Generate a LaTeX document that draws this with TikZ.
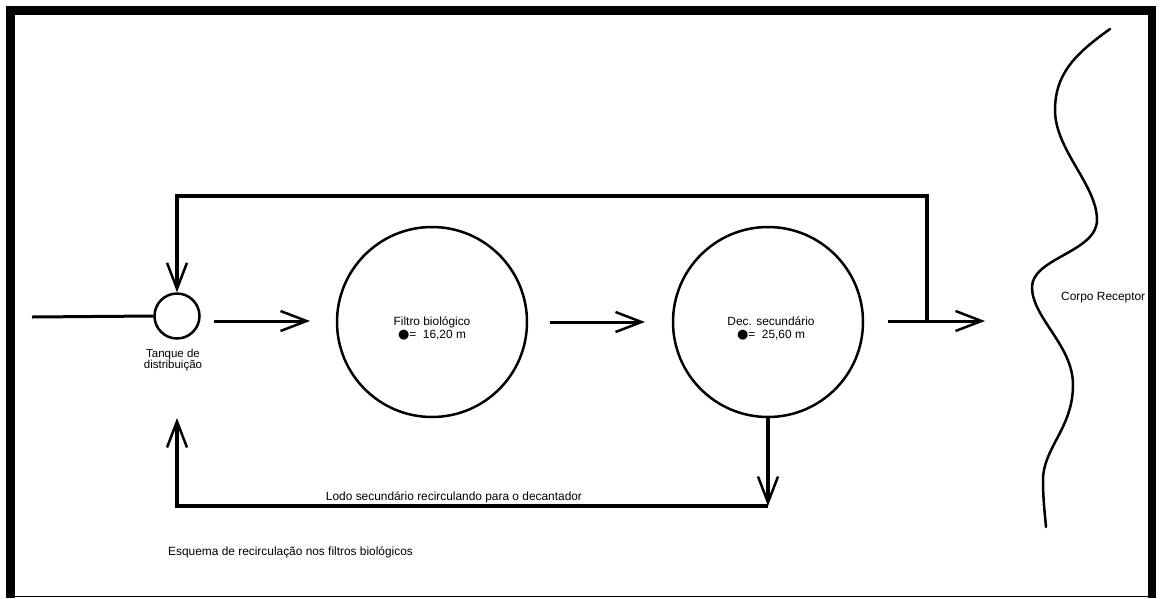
\documentclass[tikz,border=0pt]{standalone}
\usepackage{fontspec}
\setmainfont{Liberation Sans}
\newfontfamily\dejavu{DejaVu Sans}
\usetikzlibrary{arrows.meta}
\begin{document}
\begin{tikzpicture}[x=1pt,y=-1pt,
  barb/.style={-{Straight Barb[length=26pt,width=20pt,line width=2.5pt]}},
  flow/.style={line width=3pt, barb},
  loopline/.style={line width=4pt},
  vessel/.style={circle, draw, line width=2.5pt, inner sep=0pt},
  lbl/.style={font=\fontsize{11.9}{13}\selectfont, align=center, inner sep=0pt}]
\useasboundingbox (0,0) rectangle (1160,598);
% frame
\fill (6,6) rectangle (15,598);
\fill (6,6) rectangle (1156,15);
\fill (1148,6) rectangle (1156,598);
\draw[line width=1.5pt] (6,596.5) -- (1156,596.5);

% vessels
\node[vessel, minimum size=45pt] (tank) at (177,316) {};
\node[vessel, minimum size=190pt] (fb) at (432,322) {};
\node[vessel, minimum size=190pt] (dec) at (768,322) {};

% labels
\node[lbl, font=\fontsize{11.5}{11.5}\selectfont] (tankt) at (173,360) {Tanque de\\distribuição};
\node[lbl] (fbt) at (432,328) {Filtro biológico\\{\dejavu\fontsize{13}{13}\selectfont ●}= \ 16,20 m};
\node[lbl] (dect) at (771,328) {Dec. secundário\\{\dejavu\fontsize{13}{13}\selectfont ●}= \ 25,60 m};
\node[lbl, anchor=west] (corpo) at (1061,298) {Corpo Receptor};
\node[lbl] (lodo) at (454,497) {Lodo secundário recirculando para o decantador};
\node[lbl, anchor=west] (esq) at (168,552) {Esquema de recirculação nos filtros biológicos};

% coordinates
\coordinate (in) at (32,317);
\coordinate (a1s) at (214,321);
\coordinate (a1e) at (310,321);
\coordinate (a2s) at (550,322);
\coordinate (a2e) at (645,322);
\coordinate (a3s) at (888,321);
\coordinate (a3e) at (985,321);
\coordinate (split) at (927,321);
\coordinate (tr) at (927,196);
\coordinate (tl) at (177,196);
\coordinate (br) at (768,506);
\coordinate (bl) at (177,506);
\coordinate (up) at (177,418);

% connectors
\draw[line width=3pt] (in) -- (tank.west);
\draw[flow] (a1s) -- (a1e);
\draw[flow] (a2s) -- (a2e);
\draw[flow] (a3s) -- (a3e);
\draw[loopline, barb] (split) -- (tr) -- (tl) -- (tank.north);
\draw[loopline, barb] (dec.south) -- (br);
\draw[loopline, barb] (br) -- (bl) -- (up);

% receiving water body
\draw[line width=2.5pt, line cap=round]
  (1110,29) .. controls (1078,52) and (1055,72) .. (1055,110)
  .. controls (1055,150) and (1097,185) .. (1097,220)
  .. controls (1097,252) and (1032,258) .. (1032,287)
  .. controls (1032,318) and (1073,345) .. (1073,385)
  .. controls (1073,428) and (1043,448) .. (1043,480)
  .. controls (1043,500) and (1045,515) .. (1046,527);
\end{tikzpicture}
\end{document}
